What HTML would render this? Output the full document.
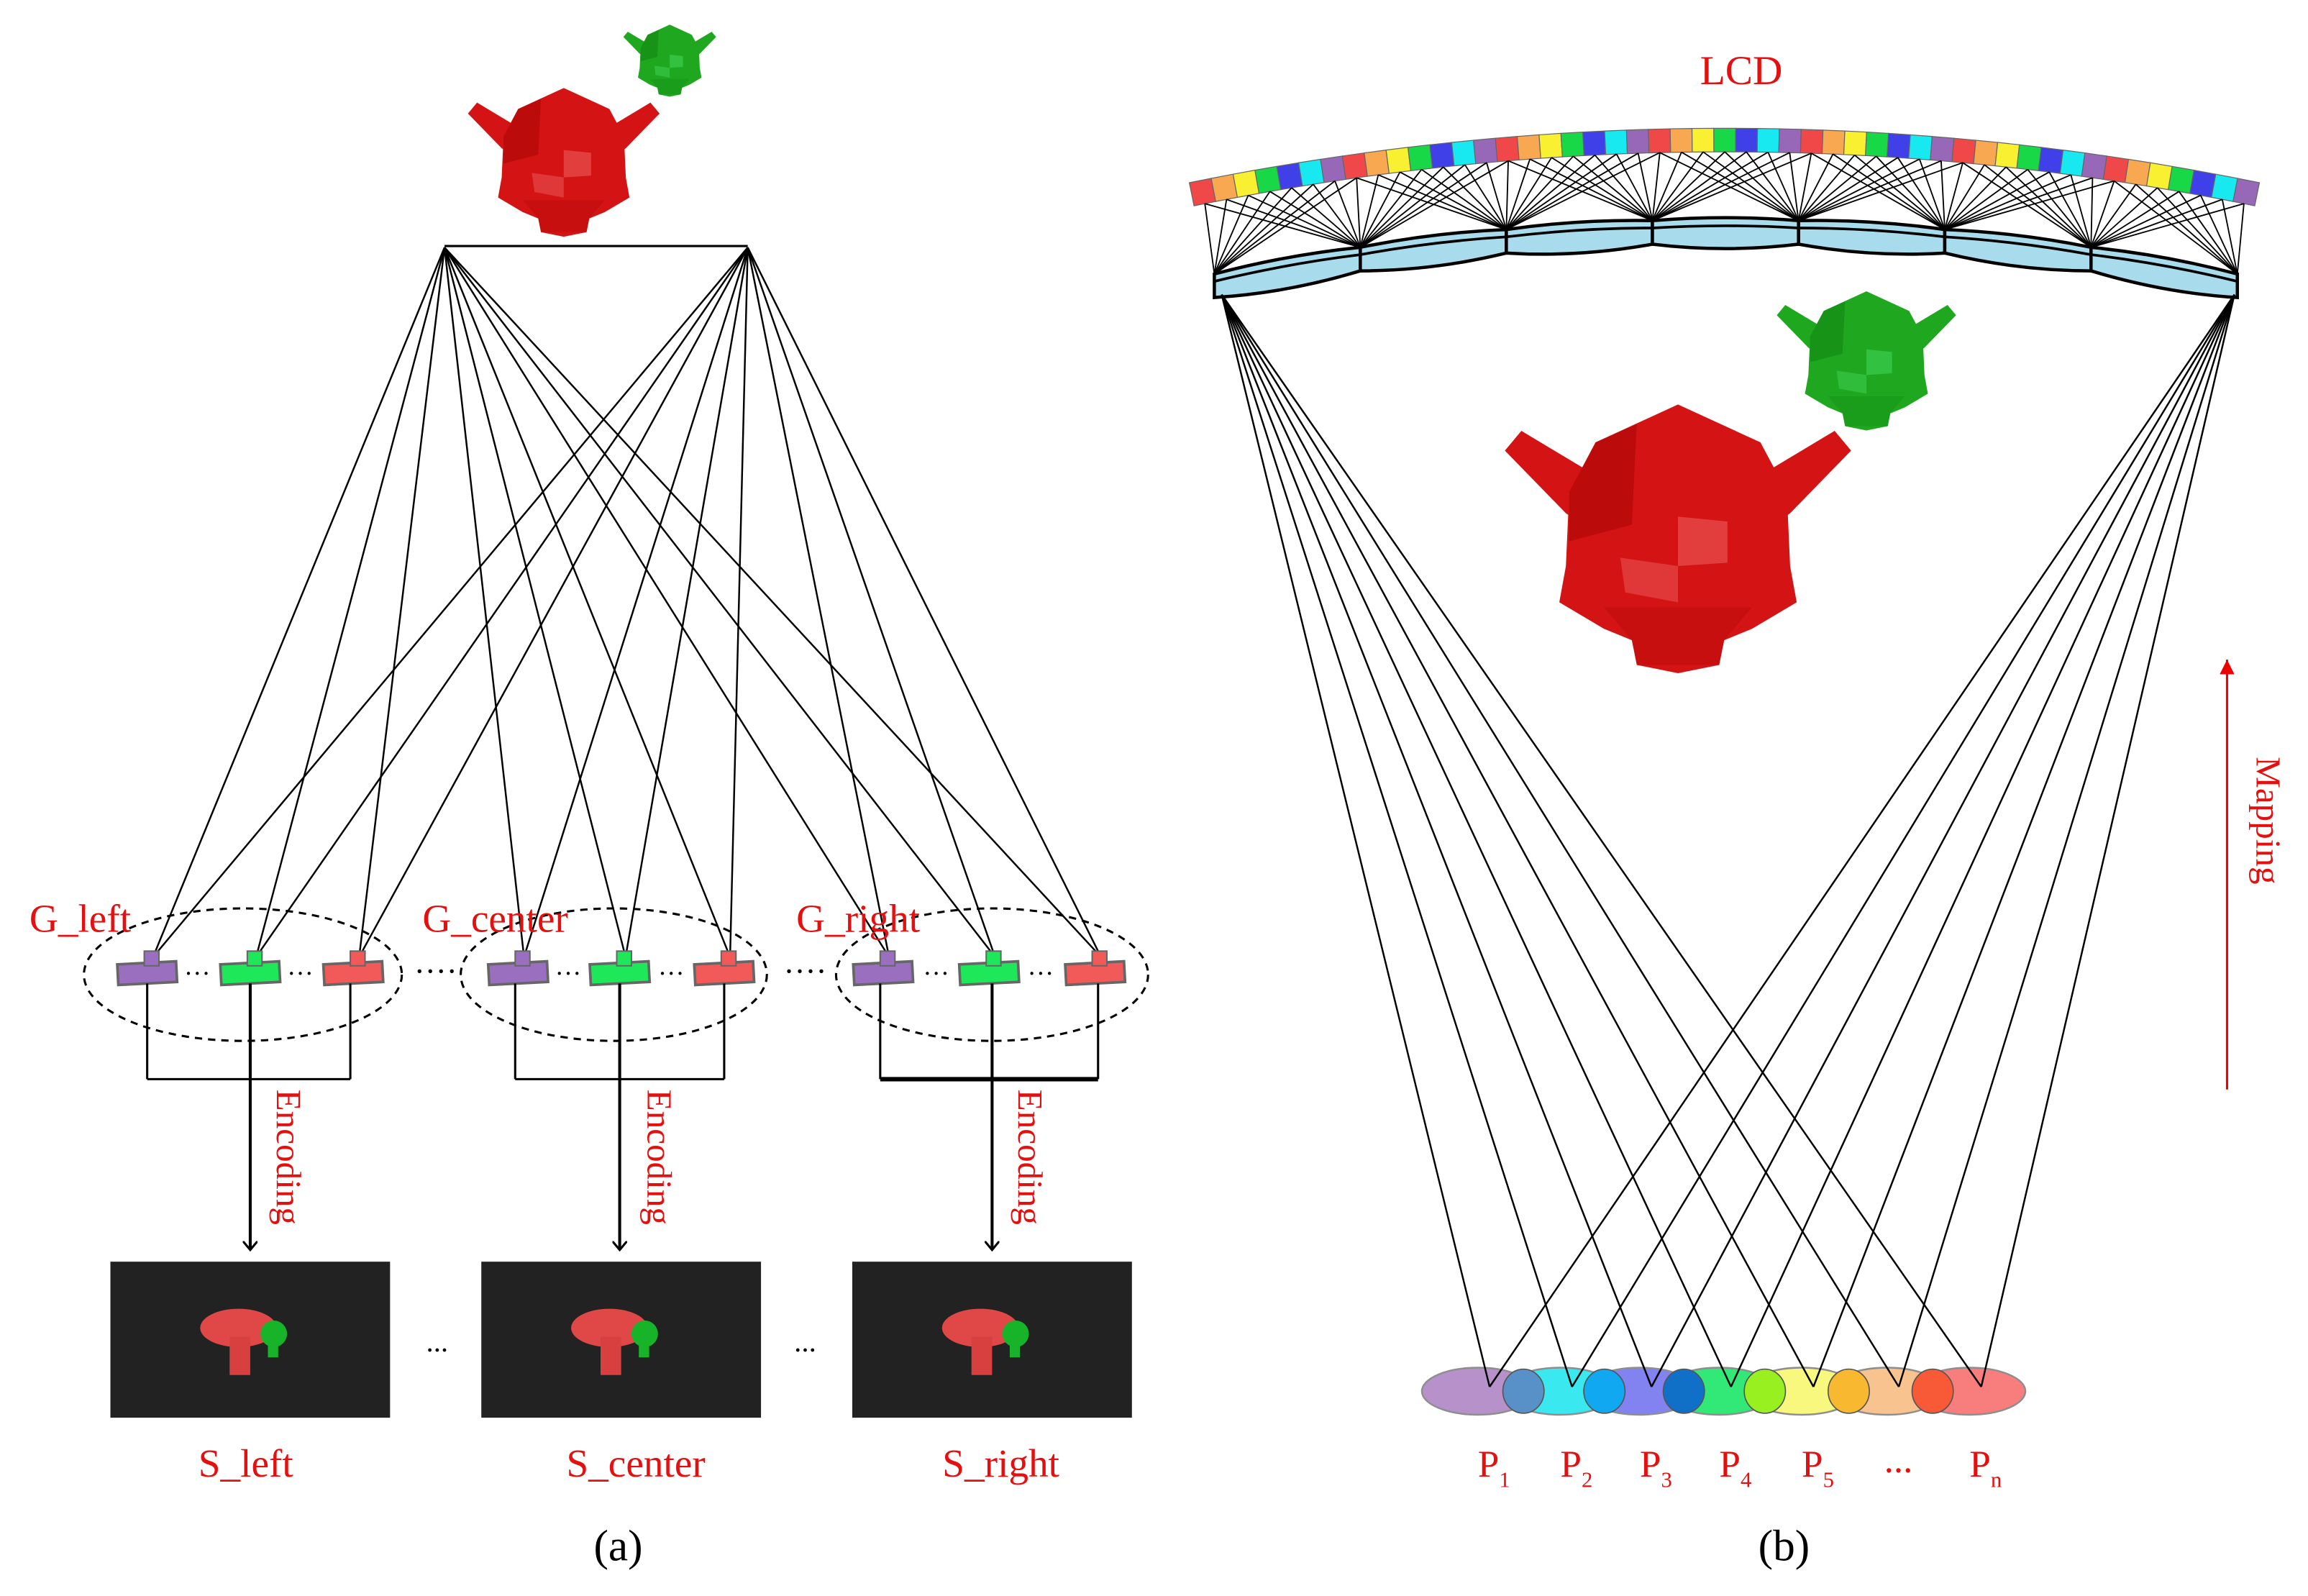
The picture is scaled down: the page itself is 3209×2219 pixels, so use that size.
<!DOCTYPE html>
<html><head><meta charset="utf-8"><style>
html,body{margin:0;padding:0;background:#fff;}
svg{display:block;}
text{font-family:"Liberation Serif",serif;}
</style></head><body>
<svg id="s" width="3209" height="2219" viewBox="0 0 1568 1084" xmlns="http://www.w3.org/2000/svg">
<defs>
<marker id="ah" markerWidth="10" markerHeight="10" refX="6" refY="5" orient="auto" markerUnits="userSpaceOnUse"><path d="M0,0 L6,5 L0,10" fill="none" stroke="#000" stroke-width="1.5"/></marker>
<marker id="ahr" markerWidth="12" markerHeight="12" refX="10" refY="5" orient="auto" markerUnits="userSpaceOnUse"><path d="M0,0 L10,5 L0,10 z" fill="#e00"/></marker>
</defs>
<g id="g"></g>
<g fill="#e41010" font-size="27">
<text x="20" y="633">G_left</text>
<text x="287" y="633">G_center</text>
<text x="541" y="633">G_right</text>
<text x="167" y="1003" text-anchor="middle">S_left</text>
<text x="432" y="1003" text-anchor="middle">S_center</text>
<text x="680" y="1003" text-anchor="middle">S_right</text>
<text x="1183" y="57" text-anchor="middle" font-size="28">LCD</text>
<text font-size="24" transform="translate(188,740) rotate(90)">Encoding</text>
<text font-size="24" transform="translate(440,740) rotate(90)">Encoding</text>
<text font-size="24" transform="translate(692,740) rotate(90)">Encoding</text>
<text font-size="24" transform="translate(1533,514) rotate(90)">Mapping</text>
</g>
<g fill="#e41010" font-size="26">
<text x="1004" y="1003">P<tspan font-size="15" dy="7">1</tspan></text>
<text x="1060" y="1003">P<tspan font-size="15" dy="7">2</tspan></text>
<text x="1114" y="1003">P<tspan font-size="15" dy="7">3</tspan></text>
<text x="1168" y="1003">P<tspan font-size="15" dy="7">4</tspan></text>
<text x="1224" y="1003">P<tspan font-size="15" dy="7">5</tspan></text>
<text x="1280" y="1000">...</text>
<text x="1338" y="1003">P<tspan font-size="15" dy="7">n</tspan></text>
</g>
<g fill="#000" font-size="30">
<text x="420" y="1060" text-anchor="middle">(a)</text>
<text x="1212" y="1060" text-anchor="middle">(b)</text>
</g>
</svg>
<script>
var NS="http://www.w3.org/2000/svg",G=document.getElementById("g");
function el(t,a){var e=document.createElementNS(NS,t);for(var k in a)e.setAttribute(k,a[k]);G.appendChild(e);return e;}
function ln(x1,y1,x2,y2,w,c){return el("line",{x1:x1,y1:y1,x2:x2,y2:y2,stroke:c||"#000","stroke-width":w||1});}
function P2(arr,cx,cy,s){return arr.map(function(p){return (cx+p[0]*s)+","+(cy+p[1]*s);}).join(" ");}
function monkey(cx,cy,s,base,light,dark){
 el("polygon",{points:P2([[-1.05,-0.5],[-0.95,-0.62],[-0.55,-0.38],[-0.58,-0.05],[-0.68,-0.12]],cx,cy,s),fill:base});
 el("polygon",{points:P2([[1.05,-0.5],[0.95,-0.62],[0.55,-0.38],[0.58,-0.05],[0.68,-0.12]],cx,cy,s),fill:base});
 el("polygon",{points:P2([[0,-0.78],[0.5,-0.55],[0.66,-0.25],[0.68,0.2],[0.72,0.42],[0.45,0.58],[0.28,0.65],[0.25,0.8],[0,0.85],[-0.25,0.8],[-0.28,0.65],[-0.45,0.58],[-0.72,0.42],[-0.68,0.2],[-0.66,-0.25],[-0.5,-0.55]],cx,cy,s),fill:base});
 el("polygon",{points:P2([[0,-0.1],[0.3,-0.07],[0.3,0.18],[0,0.2]],cx,cy,s),fill:light,opacity:0.7});
 el("polygon",{points:P2([[-0.35,0.15],[0,0.2],[0,0.42],[-0.32,0.36]],cx,cy,s),fill:light,opacity:0.6});
 el("polygon",{points:P2([[-0.5,-0.55],[-0.25,-0.66],[-0.28,-0.05],[-0.66,0.05],[-0.66,-0.25]],cx,cy,s),fill:dark,opacity:0.45});
 el("polygon",{points:P2([[-0.45,0.45],[0.45,0.45],[0.28,0.65],[0.25,0.8],[-0.25,0.8],[-0.28,0.65]],cx,cy,s),fill:dark,opacity:0.25});
}
monkey(455,40,30,"#1fa81f","#3ccc50","#0d7a0d");
monkey(383,108,62,"#d41414","#e85050","#a00000");
monkey(1268,243,58,"#1fa81f","#3ccc50","#0d7a0d");
monkey(1140,362,112,"#d41414","#e85050","#a00000");
ln(302,167,508,167,1.5);
var cams=[[100,"#9b6fbf"],[170,"#1ee85a"],[240,"#f25a5a"],[352,"#9b6fbf"],[421,"#1ee85a"],[492,"#f25a5a"],[600,"#9b6fbf"],[672,"#1ee85a"],[744,"#f25a5a"]];
cams.forEach(function(c){ln(302,168,c[0]+4,650,1.2);ln(508,168,c[0]+4,650,1.2);});
[[165,662,108],[417,662,104],[674,662,106]].forEach(function(e){el("ellipse",{cx:e[0],cy:e[1],rx:e[2],ry:45,fill:"none",stroke:"#000","stroke-width":1.5,"stroke-dasharray":"5,4"});});
cams.forEach(function(c){
 el("rect",{x:c[0]-20,y:654,width:40,height:14,fill:c[1],stroke:"#666","stroke-width":1.8,transform:"rotate(-3 "+c[0]+" 661)"});
 el("rect",{x:c[0]-2,y:646,width:10,height:10,fill:c[1],stroke:"#666","stroke-width":1});
});
[[134,663],[204,663],[386,663],[456,663],[636,663],[707,663]].forEach(function(d){el("text",{x:d[0],y:d[1]+4,"font-size":"18","text-anchor":"middle",fill:"#000"}).textContent="···";});
[[296,663],[547,663]].forEach(function(d){el("text",{x:d[0],y:d[1]+4,"font-size":"22","text-anchor":"middle",fill:"#000"}).textContent="····";});
[[100,238,1.5],[350,492,1.5],[598,746,3]].forEach(function(b){
 ln(b[0],668,b[0],733,1.5);ln(b[1],668,b[1],733,1.5);ln(b[0],733,b[1],733,b[2]);
});
[170,421,674].forEach(function(x){el("line",{x1:x,y1:668,x2:x,y2:849,stroke:"#000","stroke-width":2,"marker-end":"url(#ah)"});});
[75,327,579].forEach(function(x){
 el("rect",{x:x,y:857,width:190,height:106,fill:"#222"});
 var cx=x+95;
 el("ellipse",{cx:cx-8,cy:902,rx:26,ry:13,fill:"#e04848"});
 el("rect",{x:cx-14,y:908,width:14,height:26,fill:"#d84040"});
 el("ellipse",{cx:cx+16,cy:906,rx:9,ry:9,fill:"#17b42a"});
 el("rect",{x:cx+12,y:908,width:7,height:14,fill:"#17b42a"});
});
[[297,918],[547,918]].forEach(function(d){el("text",{x:d[0],y:d[1],"font-size":"20","text-anchor":"middle",fill:"#000"}).textContent="...";});
function qb(p0,p1,p2,t){var u=1-t;return [u*u*p0[0]+2*u*t*p1[0]+t*t*p2[0],u*u*p0[1]+2*u*t*p1[1]+t*t*p2[1]];}
function qd(p0,p1,p2,t){return [2*(1-t)*(p1[0]-p0[0])+2*t*(p2[0]-p1[0]),2*(1-t)*(p1[1]-p0[1])+2*t*(p2[1]-p1[1])];}
var A0=[808,124],A1=[1172,50],A2=[1535,124],N=49,th=16;
var cols=["#f04848","#f8a850","#f8f030","#18d848","#4040e8","#18e8f0","#9868b8"];
var pixB=[];
for(var i=0;i<N;i++){
 var ta=i/N,tb=(i+1)/N,pa=qb(A0,A1,A2,ta),pb=qb(A0,A1,A2,tb);
 var da=qd(A0,A1,A2,ta),db=qd(A0,A1,A2,tb);
 var la=Math.hypot(da[0],da[1]),lb=Math.hypot(db[0],db[1]);
 var na=[-da[1]/la*th,da[0]/la*th],nb=[-db[1]/lb*th,db[0]/lb*th];
 el("polygon",{points:[pa[0],pa[1],pb[0],pb[1],pb[0]+nb[0],pb[1]+nb[1],pa[0]+na[0],pa[1]+na[1]].join(","),fill:cols[i%7],stroke:"#666","stroke-width":0.6});
 var tm=(i+0.5)/N,pm=qb(A0,A1,A2,tm),dm=qd(A0,A1,A2,tm),lm=Math.hypot(dm[0],dm[1]);
 pixB.push([pm[0]-dm[1]/lm*th,pm[1]+dm[0]/lm*th]);
}
var L0=[825,186],L1=[1172,112],L2=[1520,186],V=[];
for(var k=0;k<=7;k++)V.push(qb(L0,L1,L2,k/7));
for(var k=0;k<7;k++){
 var a=V[k],b=V[k+1],mx=(a[0]+b[0])/2,my=(a[1]+b[1])/2;
 el("path",{d:"M"+a[0]+","+a[1]+" Q"+mx+","+(my-4)+" "+b[0]+","+b[1]+" L"+b[0]+","+(b[1]+16)+" Q"+mx+","+(my+22)+" "+a[0]+","+(a[1]+16)+" Z",fill:"#a8dcec",stroke:"#000","stroke-width":2.2});
 el("path",{d:"M"+a[0]+","+(a[1]+5)+" Q"+mx+","+(my+2)+" "+b[0]+","+(b[1]+5),fill:"none",stroke:"#000","stroke-width":1.8});
}
V.forEach(function(v,k){
 var ci=Math.round(k/7*N);
 for(var j=ci-7;j<=ci+7;j++){if(j<0||j>=N)continue;ln(pixB[j][0],pixB[j][1],v[0],v[1],0.9);}
});
var P=[1012,1068,1122,1176,1232,1290,1346];
var pc=["#b48cc8","#30e8f0","#7c7cf0","#28e870","#f8f878","#f8c088","#f87878"];
P.forEach(function(x,i){el("ellipse",{cx:x-8,cy:945,rx:38,ry:16,fill:pc[i],stroke:"#888","stroke-width":1.2,opacity:0.95});});
var ov=["#5890c8","#10a8f0","#1070c8","#98f020","#f8b830","#f85a38"];
for(var i=0;i<6;i++)el("ellipse",{cx:(P[i]+P[i+1])/2-5,cy:945,rx:14,ry:15,fill:ov[i],stroke:"#555","stroke-width":0.8});
P.forEach(function(x){ln(830,200,x,942,1.2);ln(1518,200,x,942,1.2);});
el("line",{x1:1513,y1:740,x2:1513,y2:448,stroke:"#e00","stroke-width":1.5,"marker-end":"url(#ahr)"});
</script>
</body></html>
